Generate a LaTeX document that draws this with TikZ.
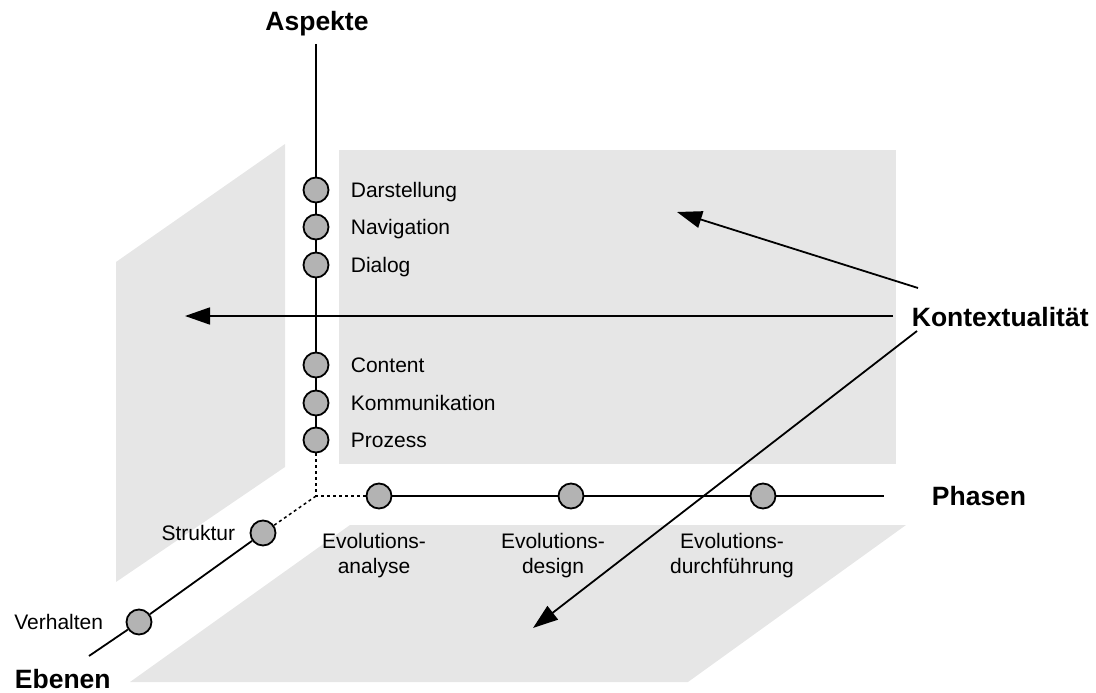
\documentclass[tikz,border=0pt]{standalone}
\usepackage{fontspec}
\setmainfont{Liberation Sans}
\usetikzlibrary{arrows.meta}
\definecolor{plane}{RGB}{230,230,230}
\definecolor{dotfill}{RGB}{179,179,179}

\begin{document}
\begin{tikzpicture}[x = 1pt, y = -1pt, line width = 1.8pt,
	itemtext/.style = {font = \fontsize{21}{25}\selectfont, inner sep = 0},
	axistext/.style = {font = \fontsize{26.5}{30}\selectfont\bfseries, inner sep = 0},
	ctxarrow/.style = {-{Triangle[length = 25pt, width = 17pt]}},
	hidden/.style = {dash pattern = on 3pt off 3pt, line width = 1.5pt}]
	\def\point{node [circle, draw, fill = dotfill, inner sep = 0, minimum size = 25pt] }
	\useasboundingbox (0, 0) rectangle (1096, 693);

	\fill [plane] (116, 262) -- (285, 144) -- (285, 467) -- (116, 582) -- cycle;
	\fill [plane] (339, 150) rectangle (896, 464);
	\fill [plane] (350, 525) -- (906, 525) -- (688, 682) -- (130, 682) -- cycle;

	\node [axistext, anchor = base] (asp) at (317, 31) {Aspekte};
	\node [axistext, anchor = base west] (pha) at (931, 505) {Phasen};
	\node [axistext, anchor = base west] (ebe) at (14, 688) {Ebenen};
	\node [axistext, anchor = base west] (ktx) at (911, 326) {Kontextualität};

	\coordinate (k1) at (893, 316);
	\coordinate (k2) at (918, 288);
	\coordinate (k3) at (917, 331);
	\coordinate (t1) at (185, 316);
	\coordinate (t2) at (677, 212);
	\coordinate (t3) at (533, 628);
	\draw [ctxarrow] (k1) -- (t1);
	\draw [ctxarrow] (k2) -- (t2);
	\draw [ctxarrow] (k3) -- (t3);

	\draw (316, 190) \point (a1) {};
	\draw (316, 227) \point (a2) {};
	\draw (316, 265) \point (a3) {};
	\draw (316, 365) \point (a4) {};
	\draw (316, 403) \point (a5) {};
	\draw (316, 440) \point (a6) {};
	\draw (379, 496) \point (ph1) {};
	\draw (571, 496) \point (ph2) {};
	\draw (763, 496) \point (ph3) {};
	\draw (263, 533) \point (e1) {};
	\draw (139, 622) \point (e2) {};

	\coordinate (atop) at (316, 44);
	\coordinate (corner) at (316, 496);
	\coordinate (phend) at (884, 496);
	\coordinate (eend) at (89, 656);

	\draw (atop) -- (a1) -- (a2) -- (a3) -- (a4) -- (a5) -- (a6);
	\draw (ph1) -- (ph2) -- (ph3) -- (phend);
	\draw (e1) -- (e2) -- (eend);
	\draw [hidden] (a6) -- (corner) -- (ph1);
	\draw [hidden] (corner) -- (e1);

	\node [itemtext, anchor = base west] (l1) at (350, 197) {Darstellung};
	\node [itemtext, anchor = base west] (l2) at (350, 234) {Navigation};
	\node [itemtext, anchor = base west] (l3) at (350, 272) {Dialog};
	\node [itemtext, anchor = base west] (l4) at (350, 372) {Content};
	\node [itemtext, anchor = base west] (l5) at (350, 410) {Kommunikation};
	\node [itemtext, anchor = base west] (l6) at (350, 447) {Prozess};
	\node [itemtext, anchor = base east] (l7) at (236, 540) {Struktur};
	\node [itemtext, anchor = base east] (l8) at (104, 629) {Verhalten};
	\node [itemtext, align = center, anchor = north] (l9) at (374, 532) {Evolutions-\\analyse};
	\node [itemtext, align = center, anchor = north] (l10) at (553, 532) {Evolutions-\\design};
	\node [itemtext, align = center, anchor = north] (l11) at (732, 532) {Evolutions-\\durchführung};
\end{tikzpicture}
\end{document}
